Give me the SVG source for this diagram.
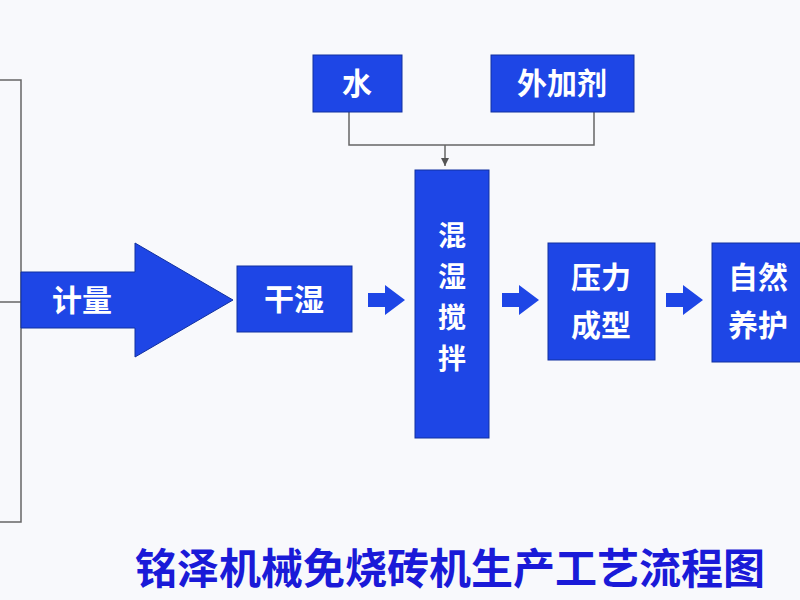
<svg xmlns="http://www.w3.org/2000/svg" width="800" height="600" viewBox="0 0 800 600">
<defs>
<style>
.b{fill:#1e46e6;stroke:#1030a0;stroke-width:1}
.t{fill:#fff;font-family:"Noto Sans CJK SC",sans-serif;font-weight:bold;font-size:30px;text-anchor:middle}
.v{font-size:28px}
.l{fill:none;stroke:#666;stroke-width:1.5}
.a{fill:#1e46e6}
</style>
<marker id="m" markerWidth="8" markerHeight="8" refX="8" refY="4" orient="auto" markerUnits="userSpaceOnUse"><path d="M0,0 L8,4 L0,8Z" fill="#555"/></marker>
</defs>
<rect width="800" height="600" fill="#f8f9fc"/>
<g id="connectors">
<path class="l" d="M0,80 H21 V522 H0 M0,302 H21"/>
<path class="l" d="M349,112 V145 H594 V112"/>
<path class="l" d="M445,145 V166" marker-end="url(#m)"/>
<path class="a" d="M368,293 H385 V285 L405,300 L385,315 V307 H368Z"/>
<path class="a" d="M502,293 H519 V285 L539,300 L519,315 V307 H502Z"/>
<path class="a" d="M666,293 H683 V285 L703,300 L683,315 V307 H666Z"/>
</g>
<g id="n-jiliang"><path class="b" d="M21,272 H135 V243 L233,300 L135,357 V328 H21Z"/><text class="t" x="82" y="311">计量</text></g>
<g id="n-ganshi"><rect class="b" x="237" y="266" width="115" height="66"/><text class="t" x="294" y="310">干湿</text></g>
<g id="n-hunshi"><rect class="b" x="415" y="170" width="74" height="268"/><text class="t v" x="452" y="246">混</text><text class="t v" x="452" y="287">湿</text><text class="t v" x="452" y="328">搅</text><text class="t v" x="452" y="369">拌</text></g>
<g id="n-yali"><rect class="b" x="548" y="243" width="107" height="117"/><text class="t" x="601" y="288">压力</text><text class="t" x="601" y="336">成型</text></g>
<g id="n-ziran"><rect class="b" x="712" y="243" width="95" height="119"/><text class="t" x="758" y="288">自然</text><text class="t" x="758" y="336">养护</text></g>
<g id="n-shui"><rect class="b" x="313" y="55" width="89" height="57"/><text class="t" x="357" y="94">水</text></g>
<g id="n-waijiaji"><rect class="b" x="491" y="55" width="143" height="57"/><text class="t" x="562" y="94">外加剂</text></g>
<text x="450" y="584" font-family="Noto Sans CJK SC,sans-serif" font-weight="bold" font-size="42" fill="#1a1ad8" text-anchor="middle">铭泽机械免烧砖机生产工艺流程图</text>
</svg>
